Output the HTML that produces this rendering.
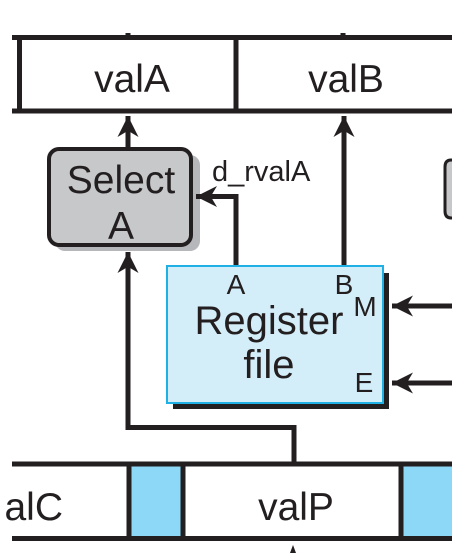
<!DOCTYPE html>
<html><head><style>
body{margin:0;background:#fff;}
svg text{font-family:"Liberation Sans",sans-serif;fill:#231f20;}
</style></head><body>
<svg width="459" height="553" viewBox="0 0 459 553" xmlns="http://www.w3.org/2000/svg">
<defs>
<marker id="ah" viewBox="0 0 10 10" refX="10" refY="5" markerWidth="4.2" markerHeight="4.2" orient="auto" markerUnits="strokeWidth">
<path d="M0,0 L10,5 L0,10 L3,5 z" fill="#231f20"/></marker>
</defs>
<g stroke="#231f20" fill="none">
<line x1="12" y1="37.5" x2="452" y2="37.5" stroke-width="5"/>
<line x1="12" y1="111" x2="452" y2="111" stroke-width="5"/>
<line x1="19.5" y1="37" x2="19.5" y2="112" stroke-width="5"/>
<line x1="236" y1="37" x2="236" y2="112" stroke-width="5"/>
<line x1="128" y1="33" x2="128" y2="36" stroke-width="5"/>
<line x1="343" y1="33" x2="343" y2="36" stroke-width="5"/>
</g>
<text x="132" y="92" font-size="39" text-anchor="middle">valA</text>
<text x="346" y="92" font-size="39" text-anchor="middle">valB</text>
<rect x="55" y="155" width="145" height="96" rx="10" fill="#b5b7ba"/>
<rect x="49" y="149" width="142" height="96" rx="10" fill="#c6c8ca" stroke="#231f20" stroke-width="4"/>
<text x="121" y="193" font-size="39" text-anchor="middle">Select</text>
<text x="121" y="239" font-size="39" text-anchor="middle">A</text>
<text x="212" y="181" font-size="29">d_rvalA</text>
<g stroke="#231f20" fill="none" stroke-width="5">
<line x1="128" y1="148" x2="128" y2="116" marker-end="url(#ah)"/>
<line x1="344" y1="266" x2="344" y2="116" marker-end="url(#ah)"/>
<polyline points="236,266 236,196.5 196,196.5" marker-end="url(#ah)"/>
<polyline points="294,463 294,427.5 128,427.5 128,252" marker-end="url(#ah)"/>
<line x1="452" y1="306" x2="392" y2="306" marker-end="url(#ah)"/>
<line x1="452" y1="383" x2="392" y2="383" marker-end="url(#ah)"/>
</g>
<rect x="173" y="273" width="216" height="136" fill="#231f20"/>
<rect x="167" y="266" width="216" height="137" fill="#d4eef9" stroke="#1fb0e6" stroke-width="2"/>
<text x="236" y="294" font-size="28" text-anchor="middle">A</text>
<text x="344" y="294" font-size="28" text-anchor="middle">B</text>
<text x="365" y="316" font-size="28" text-anchor="middle">M</text>
<text x="364" y="392" font-size="28" text-anchor="middle">E</text>
<text x="269" y="334" font-size="40" text-anchor="middle">Register</text>
<text x="269" y="378" font-size="40" text-anchor="middle">file</text>
<path d="M452,160 L451,160 Q445,160 445,167 L445,211 Q445,218 451,218 L452,218" fill="#c6c8ca" stroke="#231f20" stroke-width="3"/>
<rect x="129" y="464" width="54" height="74" fill="#8dd8f7"/>
<rect x="401" y="464" width="51" height="74" fill="#8dd8f7"/>
<g stroke="#231f20" fill="none">
<line x1="12" y1="464" x2="452" y2="464" stroke-width="5"/>
<line x1="12" y1="538.5" x2="452" y2="538.5" stroke-width="5"/>
<line x1="129" y1="462" x2="129" y2="541" stroke-width="5"/>
<line x1="183" y1="462" x2="183" y2="541" stroke-width="5"/>
<line x1="401" y1="462" x2="401" y2="541" stroke-width="5"/>
</g>
<text x="63" y="520" font-size="39" text-anchor="end">alC</text>
<text x="296" y="520" font-size="39" text-anchor="middle">valP</text>
<path d="M293,545 L290,553 L296,553 z" fill="#231f20"/>
</svg>
</body></html>
